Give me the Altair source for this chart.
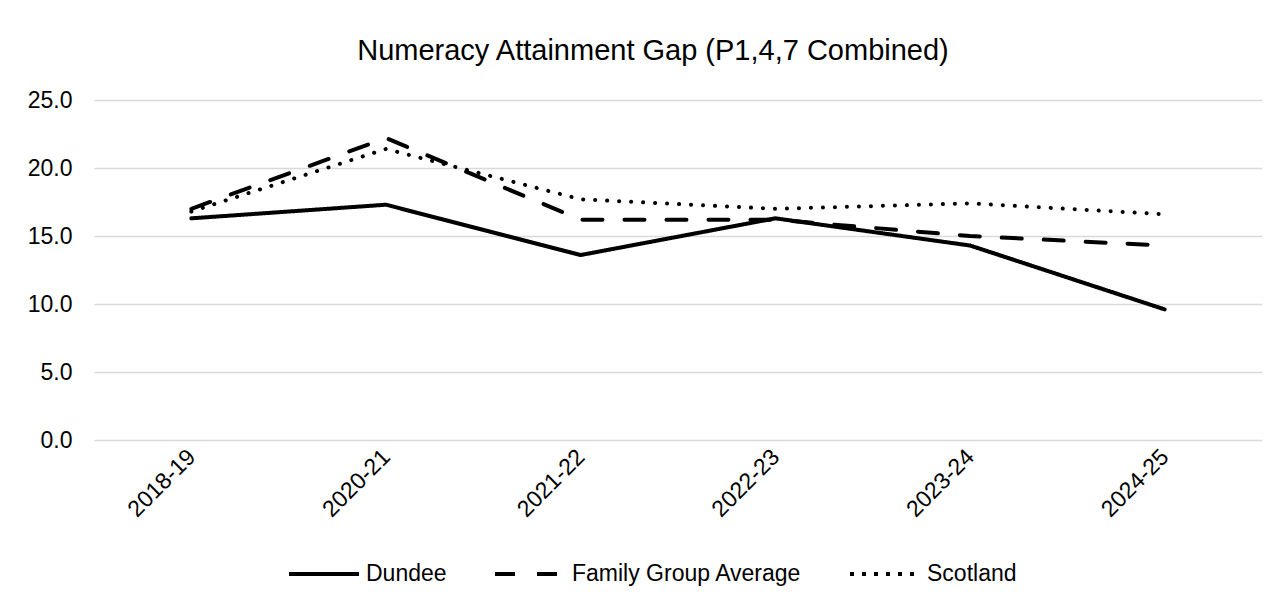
import altair as alt
import pandas as pd

years = ["2018-19", "2020-21", "2021-22", "2022-23", "2023-24", "2024-25"]
dundee = [16.3, 17.3, 13.6, 16.3, 14.3, 9.6]
family_avg = [17.0, 22.2, 16.2, 16.2, 15.0, 14.3]
scotland = [16.8, 21.4, 17.7, 17.0, 17.4, 16.6]
series_names = ["Dundee", "Family Group Average", "Scotland"]
y_ticks = [0, 5, 10, 15, 20, 25]

rows = []
for name, vals in zip(series_names, [dundee, family_avg, scotland]):
    for yr, v in zip(years, vals):
        rows.append({"Year": yr, "Value": v, "Series": name})
df = pd.DataFrame(rows)

FONT = "Liberation Sans"

x_enc = alt.X("Year:N", sort=years,
              scale=alt.Scale(type="point", padding=0.5),
              axis=alt.Axis(title=None, labelAngle=-45, labelAlign="right", labelBaseline="middle",
                            labelPadding=13, ticks=False, domain=False, labelFontSize=23,
                            labelColor="#000000", labelFont=FONT))
y_enc = alt.Y("Value:Q", scale=alt.Scale(domain=[0, 25], nice=False),
              axis=alt.Axis(title=None, values=y_ticks, format=".1f", ticks=False, domain=False,
                            grid=True, gridColor="#d9d9d9", gridWidth=1.5, labelFontSize=23,
                            labelPadding=22, labelColor="#000000", labelFont=FONT))

base = alt.Chart(df)

main = base.transform_filter(alt.datum.Series != "Scotland").mark_line(
    strokeWidth=4, strokeCap="round", strokeJoin="round", color="#000000"
).encode(
    x=x_enc, y=y_enc, detail="Series:N",
    strokeDash=alt.StrokeDash("Series:N",
        scale=alt.Scale(domain=series_names, range=[[1, 0], [20, 22], [4, 8]]),
        legend=alt.Legend(title=None, orient="none", direction="horizontal",
                          legendX=193, legendY=437,
                          symbolType="stroke", symbolSize=4900, symbolStrokeWidth=4,
                          symbolStrokeColor="#000000",
                          labelFontSize=23, labelFont=FONT, labelColor="#000000",
                          labelLimit=0, labelOffset=5, columnPadding=40)),
)

dots = base.transform_filter(alt.datum.Series == "Scotland").mark_line(
    strokeWidth=4, strokeCap="round", strokeJoin="round", color="#000000",
    strokeDash=[0.1, 11.9]
).encode(x=x_enc, y=y_enc, detail="Series:N")

chart = alt.layer(main, dots).properties(
    width=1168, height=340,
    title=alt.TitleParams("Numeracy Attainment Gap (P1,4,7 Combined)", font=FONT, fontSize=29,
                          fontWeight="normal", color="#000000", anchor="middle", dx=-25,
                          baseline="alphabetic", offset=0),
    autosize=alt.AutoSizeParams(type="none"),
    padding={"left": 86, "top": 92, "right": 11, "bottom": 150},
).configure_view(stroke=None)

chart.save("out.html", embed_options={"renderer": "svg", "actions": False})
